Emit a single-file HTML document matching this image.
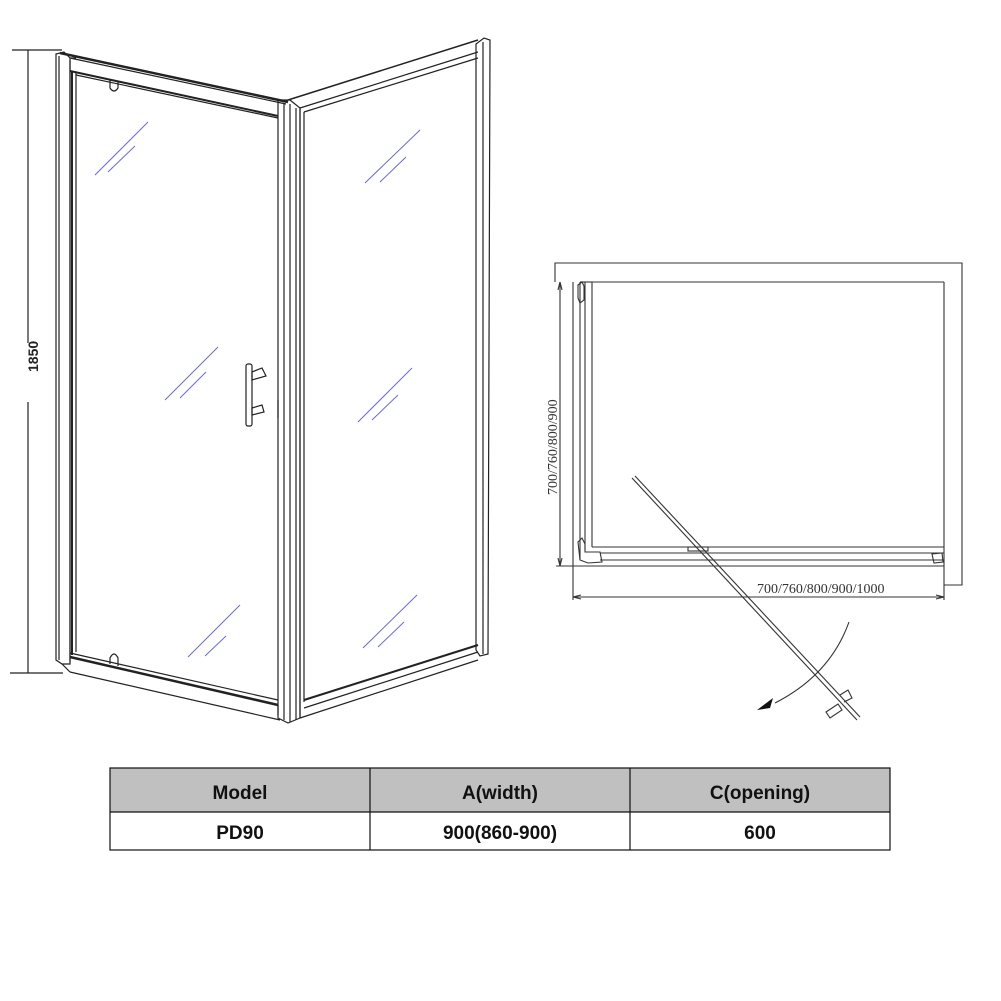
<!DOCTYPE html>
<html><head><meta charset="utf-8"><style>
html,body{margin:0;padding:0;background:#fff;width:1001px;height:1001px;overflow:hidden}
svg{display:block}
</style></head><body>
<svg width="1001" height="1001" viewBox="0 0 1001 1001" xmlns="http://www.w3.org/2000/svg">
<g fill="none" stroke="#222" stroke-width="1.2">
<!-- dimension 1850 -->
<line x1="12" y1="50" x2="62" y2="50"/>
<line x1="10" y1="673" x2="63" y2="673"/>
<line x1="28" y1="50" x2="28" y2="343"/>
<line x1="28" y1="402" x2="28" y2="673"/>

<!-- left post -->
<path d="M56 54 L56 660 L62 664 L70 664 L70 58 L64 52 Z"/>
<line x1="59" y1="56" x2="59" y2="660"/>
<line x1="70" y1="58" x2="76" y2="58"/>
<!-- door frame outer -->
<line x1="70" y1="60" x2="70" y2="662"/>
<line x1="76" y1="72" x2="76" y2="652"/>
<line x1="72" y1="72" x2="72" y2="655" stroke-width="2"/>
<!-- top rail -->
<line x1="60" y1="53" x2="288" y2="102" stroke-width="2.5"/>
<line x1="70" y1="58" x2="286" y2="104"/>
<line x1="70" y1="71" x2="278" y2="116" stroke-width="2"/>
<line x1="76" y1="75" x2="278" y2="118"/>
<path d="M110 80 L110 88 Q114 94 118 88 L118 82"/>
<!-- bottom rail -->
<line x1="70" y1="653" x2="278" y2="700"/>
<line x1="70" y1="657" x2="278" y2="705" stroke-width="2.5"/>
<line x1="70" y1="672" x2="280" y2="720"/>
<line x1="62" y1="664" x2="70" y2="672"/>
<path d="M110 664 L110 658 Q114 650 118 658 L118 666"/>
<line x1="278" y1="705" x2="278" y2="715"/>
<!-- center post -->
<path d="M278 100 L278 718 L288 723 L300 718 L300 108 L290 100 Z"/>
<line x1="284" y1="104" x2="284" y2="720"/>
<line x1="290" y1="104" x2="290" y2="722"/>
<line x1="296" y1="108" x2="296" y2="720"/>
<line x1="278" y1="400" x2="278" y2="418"/>
<!-- right panel -->
<line x1="288" y1="100" x2="478" y2="40" stroke-width="1.5"/>
<line x1="300" y1="108" x2="478" y2="52"/>
<line x1="304" y1="112" x2="478" y2="58"/>
<line x1="304" y1="112" x2="304" y2="702"/>
<line x1="300" y1="108" x2="300" y2="718"/>
<line x1="304" y1="700" x2="478" y2="645" stroke-width="2"/>
<line x1="304" y1="708" x2="478" y2="652"/>
<line x1="300" y1="718" x2="478" y2="660"/>
<!-- right post -->
<path d="M476 44 L476 650 L480 656 L488 654 L490 40 L484 38 Z"/>
<line x1="483" y1="42" x2="483" y2="654"/>
<!-- handle -->
<rect x="246" y="364" width="6" height="62" rx="2"/>
<path d="M252 372 L262 368 L266 376 L252 380 Z"/>
<path d="M252 408 L262 405 L264 412 L252 415 Z"/>
</g>
<!-- glass hatches -->
<g stroke="#6a6acc" stroke-width="1">
<line x1="95" y1="175" x2="148" y2="122"/><line x1="108" y1="172" x2="135" y2="146"/>
<line x1="165" y1="400" x2="218" y2="347"/><line x1="180" y1="398" x2="206" y2="372"/>
<line x1="188" y1="657" x2="240" y2="605"/><line x1="205" y1="656" x2="226" y2="636"/>
<line x1="365" y1="183" x2="420" y2="130"/><line x1="380" y1="182" x2="406" y2="157"/>
<line x1="358" y1="422" x2="412" y2="368"/><line x1="372" y1="420" x2="398" y2="395"/>
<line x1="363" y1="648" x2="417" y2="595"/><line x1="378" y1="647" x2="404" y2="622"/>
</g>
<text x="0" y="0" transform="translate(38,372) rotate(-90)" font-family="Liberation Sans, sans-serif" font-size="14" font-weight="bold" fill="#222">1850</text>

<!-- plan view -->
<g fill="none" stroke="#333" stroke-width="1.1">
<path d="M555 282 L555 263 L962 263 L962 585 L944 585"/>
<line x1="592" y1="282" x2="944" y2="282"/>
<line x1="580" y1="282" x2="592" y2="282"/>
<line x1="944" y1="282" x2="944" y2="566"/>
<line x1="592" y1="282" x2="592" y2="547"/>
<line x1="585" y1="282" x2="585" y2="550"/>
<line x1="580" y1="282" x2="580" y2="560"/>
<line x1="573" y1="282" x2="573" y2="600"/>
<line x1="592" y1="547" x2="944" y2="547"/>
<line x1="600" y1="553" x2="944" y2="553"/>
<line x1="600" y1="560" x2="944" y2="560"/>
<line x1="573" y1="566" x2="944" y2="566"/>
<line x1="556" y1="566" x2="573" y2="566"/>
<path d="M578 285 L582 282 L584 286 L584 300 L580 303 L578 298 Z"/>
<path d="M578 542 L582 538 L585 544 L585 552 L600 552 L602 562 L588 563 L580 560 Z"/>
<path d="M932 554 L942 553 L943 562 L934 563 Z"/>
<rect x="688" y="547" width="20" height="4"/>
<!-- vertical dim -->
<line x1="560" y1="282" x2="560" y2="566"/>
<path d="M558 290 L560 282 L562 290"/>
<path d="M558 558 L560 566 L562 558"/>
<!-- horizontal dim -->
<line x1="944" y1="566" x2="944" y2="600"/>
<line x1="573" y1="597" x2="944" y2="597"/>
<path d="M581 595 L573 597 L581 599"/>
<path d="M936 595 L944 597 L936 599"/>
<!-- door swing -->
<line x1="632" y1="478" x2="857" y2="720"/>
<line x1="635" y1="476" x2="860" y2="717"/>
<path d="M849 622 Q830 675 775 703"/>
<path d="M826 712 L838 704 L842 710 L830 718 Z"/>
<path d="M840 695 L848 690 L852 698 L844 702"/>
</g>
<path d="M757 710 L773 698 L770 708 Z" fill="#111"/>
<text x="0" y="0" transform="translate(557,495) rotate(-90)" font-family="Liberation Serif, serif" font-size="14" fill="#333">700/760/800/900</text>
<text x="757" y="593" font-family="Liberation Serif, serif" font-size="14" fill="#333">700/760/800/900/1000</text>

<!-- table -->
<rect x="110" y="768" width="780" height="44" fill="#c0c0c0"/>
<g stroke="#111" stroke-width="1.2" fill="none">
<rect x="110" y="768" width="780" height="82"/>
<line x1="110" y1="812" x2="890" y2="812"/>
<line x1="370" y1="768" x2="370" y2="850"/>
<line x1="630" y1="768" x2="630" y2="850"/>
</g>
<g font-family="Liberation Sans, sans-serif" font-size="19" font-weight="bold" fill="#111" text-anchor="middle">
<text x="240" y="799">Model</text>
<text x="500" y="799">A(width)</text>
<text x="760" y="799">C(opening)</text>
<text x="240" y="839">PD90</text>
<text x="500" y="839">900(860-900)</text>
<text x="760" y="839">600</text>
</g>
</svg>
</body></html>
